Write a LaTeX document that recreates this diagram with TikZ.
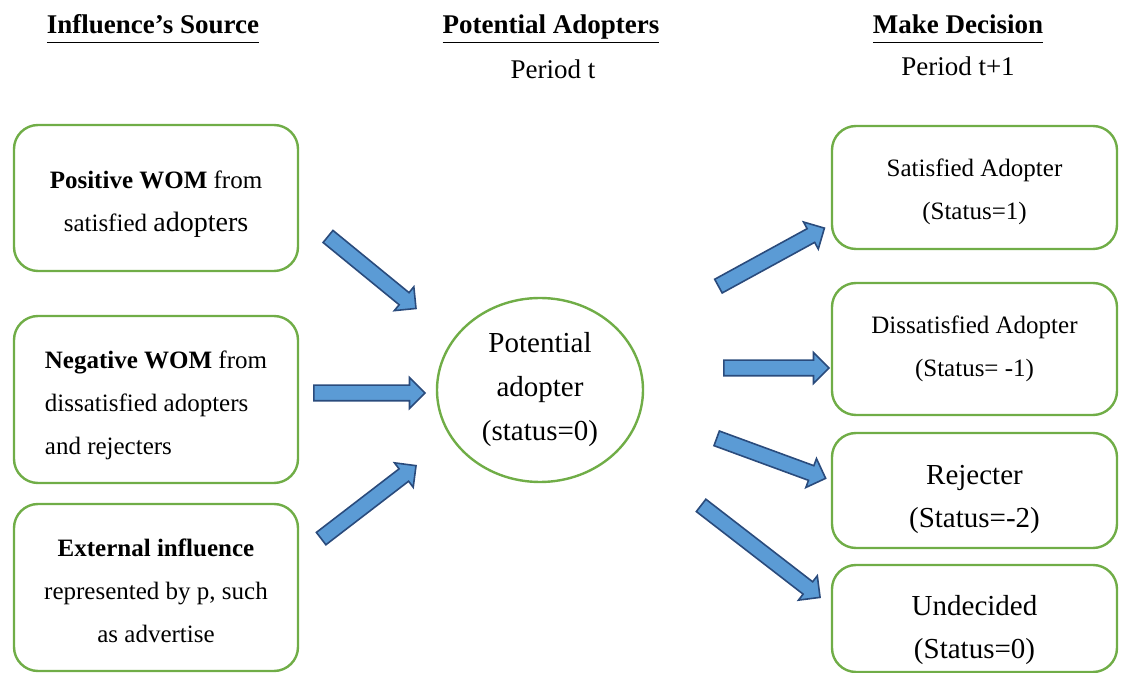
\documentclass[tikz,border=0pt]{standalone}
\usepackage{fontspec}
\setmainfont{Liberation Serif}
\usepackage{tikz}
\usetikzlibrary{shapes}
\usetikzlibrary{calc}
\definecolor{boxgreen}{HTML}{70AD47}
\definecolor{arrowfill}{HTML}{5B9BD5}
\definecolor{arrowline}{HTML}{2A4B7C}
\tikzset{
  src node/.style={rectangle,rounded corners=12pt,draw=boxgreen,line width=1.2pt,minimum width=142pt,align=center,inner sep=0pt,font=\fontsize{12.5}{21.5}\selectfont},
  dec node/.style={src node,minimum width=142.5pt},
  big text/.style={font=\fontsize{14.5}{21.5}\selectfont},
  main node/.style={ellipse,draw=boxgreen,line width=1.2pt,minimum width=103pt,minimum height=92pt,align=center,inner sep=0pt,font=\fontsize{14.5}{22}\selectfont},
  title text/.style={anchor=base,font=\fontsize{13.5}{16}\selectfont\bfseries},
  period text/.style={anchor=base,font=\fontsize{13.5}{16}\selectfont},
  block arrow/.style={single arrow,draw=arrowline,fill=arrowfill,line width=0.8pt,inner xsep=0pt,inner ysep=3.5pt,single arrow head extend=3.8pt,single arrow tip angle=90}
}
\newcommand{\headline}[1]{\underline{\smash{#1}\vphantom{p}}}
\newcommand{\topstrut}[1]{\rule{0pt}{#1}}
\newcommand{\blockarrow}[2]{%
  \path let \p1=(#1), \p2=(#2), \n1={atan2(\y2-\y1,\x2-\x1)}, \n2={veclen(\x2-\x1,\y2-\y1)} in
    node[block arrow,minimum height=\n2,rotate=\n1] at ($(#1)!0.5!(#2)$) {};}

\begin{document}
\begin{tikzpicture}[x=0.5pt,y=-0.5pt]
  \useasboundingbox (0,0) rectangle (1121,673);
  \node[title text] (srctitle) at (153,34) {\headline{Influence's Source}};
  \node[title text] (adtitle) at (551,34) {\headline{Potential Adopters}};
  \node[period text] (pert) at (553,79) {Period t};
  \node[title text] (dectitle) at (958,34) {\headline{Make Decision}};
  \node[period text] (pert1) at (958,76) {Period t+1};

  \node[src node,minimum height=73pt] (pos) at (156,198) {\topstrut{14.6pt}\textbf{Positive WOM} from\\satisfied {\fontsize{14}{21.5}\selectfont adopters}};
  \node[src node,minimum height=83.5pt,align=left] (neg) at (156,399.5) {\topstrut{14.6pt}\textbf{Negative WOM} from\\dissatisfied adopters\\and rejecters};
  \node[src node,minimum height=83.5pt] (ext) at (156,587.5) {\topstrut{12.6pt}\textbf{External influence}\\represented by p, such\\as advertise};

  \node[main node] (pot) at (540,390) {Potential\\adopter\\(status=0)};

  \node[dec node,minimum height=61.5pt] (sat) at (974.5,187.5) {\topstrut{13.6pt}Satisfied Adopter\\(Status=1)};
  \node[dec node,minimum height=66pt] (dis) at (974.5,349) {Dissatisfied Adopter\\(Status= -1)};
  \node[dec node,big text,minimum height=57.5pt] (rej) at (974.5,490.5) {\topstrut{19pt}Rejecter\\(Status=-2)};
  \node[dec node,big text,minimum height=53.5pt] (und) at (974.5,618.5) {\topstrut{22pt}Undecided\\(Status=0)};

  \coordinate (a1s) at (325,234); \coordinate (a1e) at (413,306);
  \coordinate (a2s) at (310,393); \coordinate (a2e) at (421,393);
  \coordinate (a3s) at (318,541); \coordinate (a3e) at (413,468);
  \coordinate (b1s) at (715,288); \coordinate (b1e) at (821,230);
  \coordinate (b2s) at (720,368); \coordinate (b2e) at (825,368);
  \coordinate (b3s) at (713,437); \coordinate (b3e) at (822,477);
  \coordinate (b4s) at (698,503); \coordinate (b4e) at (817,595);
  \blockarrow{a1s}{a1e}
  \blockarrow{a2s}{a2e}
  \blockarrow{a3s}{a3e}
  \blockarrow{b1s}{b1e}
  \blockarrow{b2s}{b2e}
  \blockarrow{b3s}{b3e}
  \blockarrow{b4s}{b4e}
\end{tikzpicture}
\end{document}
